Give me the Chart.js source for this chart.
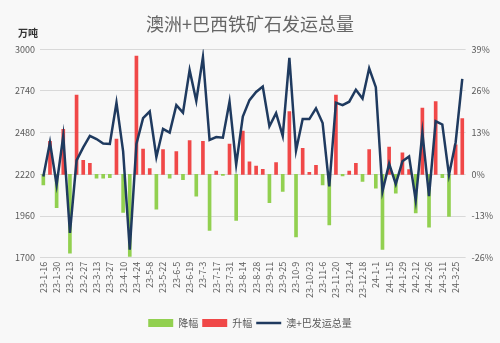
<!DOCTYPE html>
<html>
<head>
<meta charset="utf-8">
<script src="https://cdn.jsdelivr.net/npm/chart.js@4.4.1/dist/chart.umd.min.js"></script>
<style>
  html, body { margin: 0; padding: 0; background: #fff; }
  #wrap { width: 500px; height: 343px; }
</style>
</head>
<body>
<div id="wrap"><canvas id="grafico"></canvas></div>
<script>
// semanas (eixo x)
const weeks = [
  "23-1-16", "23-1-23", "23-1-30", "23-2-6", "23-2-13", "23-2-20", "23-2-27", "23-3-6",
  "23-3-13", "23-3-20", "23-3-27", "23-4-3", "23-4-10", "23-4-17", "23-4-24", "23-5-1",
  "23-5-8", "23-5-15", "23-5-22", "23-5-29", "23-6-5", "23-6-12", "23-6-19", "23-6-26",
  "23-7-3", "23-7-10", "23-7-17", "23-7-24", "23-7-31", "23-8-7", "23-8-14", "23-8-21",
  "23-8-28", "23-9-4", "23-9-11", "23-9-18", "23-9-25", "23-10-2", "23-10-9", "23-10-16",
  "23-10-23", "23-10-30", "23-11-6", "23-11-13", "23-11-20", "23-11-27", "23-12-4", "23-12-11",
  "23-12-18", "23-12-25", "24-1-1", "24-1-8", "24-1-15", "24-1-22", "24-1-29", "24-2-5",
  "24-2-12", "24-2-19", "24-2-26", "24-3-4", "24-3-11", "24-3-18", "24-3-25", "24-4-1"
];

// 澳+巴发运总量, 万吨
const shipments = [
  2206, 2419, 2155, 2460, 1855, 2307, 2388, 2460,
  2440, 2412, 2410, 2667, 2363, 1750, 2410, 2571,
  2612, 2328, 2504, 2480, 2652, 2605, 2870, 2679,
  2951, 2435, 2453, 2449, 2673, 2281, 2581, 2683,
  2734, 2768, 2520, 2602, 2460, 2947, 2368, 2565,
  2565, 2632, 2540, 2145, 2667, 2652, 2673, 2748,
  2693, 2882, 2764, 2114, 2287, 2159, 2301, 2332,
  2058, 2480, 2084, 2551, 2531, 2216, 2419, 2815
];

// 周环比, %
const weeklyChange = [
  -3.3, 10.3, -10.4, 14.0, -24.6, 24.7, 4.4, 3.4,
  -1.2, -1.2, -1.0, 11.0, -11.9, -25.6, 36.9, 7.9,
  1.8, -10.9, 7.7, -1.2, 7.1, -1.7, 10.5, -6.8,
  10.3, -17.5, 1.0, -0.3, 9.4, -14.4, 13.5, 3.9,
  2.6, 1.6, -8.8, 3.7, -5.3, 19.6, -19.5, 8.1,
  0.6, 2.8, -3.3, -15.8, 24.7, -0.5, 1.0, 3.4,
  -2.2, 7.7, -4.3, -23.4, 8.5, -5.9, 6.7, 1.5,
  -12.0, 20.7, -16.5, 22.7, -1.0, -13.1, 9.2, 17.4
];

const leftTicks = [1700, 1960, 2220, 2480, 2740, 3000];
const rightTicks = [-26, -13, 0, 13, 26, 39];

const fall = weeklyChange.map(v => (v < 0 ? v : null));
const rise = weeklyChange.map(v => (v >= 0 ? v : null));

const FONT = '"Noto Sans CJK SC", "Noto Sans", sans-serif';
const GRAY = "#595959";

const extras = {
  id: "extras",
  beforeDraw(chart) {
    const ctx = chart.ctx;
    ctx.save();
    ctx.fillStyle = "#f8f8f8";
    ctx.fillRect(0, 0, chart.width, chart.height);
    ctx.restore();
  },
  afterDraw(chart) {
    const ctx = chart.ctx;
    ctx.save();
    ctx.font = "bold 10px " + FONT;
    ctx.fillStyle = "#333";
    ctx.textBaseline = "middle";
    ctx.fillText("万吨", 18, 33);
    ctx.restore();
  }
};

new Chart(document.getElementById("grafico"), {
  data: {
    labels: weeks,
    datasets: [
      {
        type: "bar",
        label: "降幅",
        data: fall,
        yAxisID: "y1",
        backgroundColor: "#92d050",
        borderWidth: 0,
        barThickness: 3,
        grouped: false,
        pointStyle: "rect",
        order: 1
      },
      {
        type: "bar",
        label: "升幅",
        data: rise,
        yAxisID: "y1",
        backgroundColor: "#f04848",
        borderWidth: 0,
        barThickness: 3,
        grouped: false,
        pointStyle: "rect",
        order: 1
      },
      {
        type: "line",
        label: "澳+巴发运总量",
        data: shipments,
        yAxisID: "y",
        borderColor: "#1f3a5f",
        backgroundColor: "#1f3a5f",
        borderWidth: 2.5,
        pointRadius: 0,
        tension: 0,
        pointStyle: "line",
        order: 0
      }
    ]
  },
  options: {
    responsive: true,
    maintainAspectRatio: false,
    animation: false,
    layout: { padding: { left: 0, right: 0, top: 0, bottom: 5 } },
    plugins: {
      title: {
        display: true,
        text: "澳洲+巴西铁矿石发运总量",
        color: "#666",
        font: { family: FONT, size: 18, weight: "normal" },
        padding: { top: 13, bottom: 14.7 }
      },
      legend: {
        position: "bottom",
        labels: {
          usePointStyle: true,
          pointStyleWidth: 25,
          boxHeight: 8,
          padding: 4,
          color: GRAY,
          font: { family: FONT, size: 10 },
          sort: (a, b) => a.datasetIndex - b.datasetIndex
        }
      },
      tooltip: { enabled: false }
    },
    scales: {
      x: {
        offset: true,
        grid: { display: false, drawTicks: false },
        border: { display: false },
        afterFit: s => { s.height = 56.3; },
        ticks: {
          autoSkip: false,
          minRotation: 90,
          maxRotation: 90,
          padding: 4,
          color: GRAY,
          font: { family: FONT, size: 9 },
          callback: function (value, index) {
            return index % 2 === 0 ? this.getLabelForValue(value) : "";
          }
        }
      },
      y: {
        position: "left",
        min: leftTicks[0],
        max: leftTicks[leftTicks.length - 1],
        afterFit: s => { s.width = 40; },
        afterBuildTicks: s => { s.ticks = leftTicks.map(v => ({ value: v })); },
        grid: { color: "#d9d9d9", drawTicks: false },
        border: { display: false },
        ticks: {
          padding: 5,
          color: GRAY,
          font: { family: FONT, size: 9 },
          callback: v => String(v)
        }
      },
      y1: {
        position: "right",
        min: rightTicks[0],
        max: rightTicks[rightTicks.length - 1],
        afterFit: s => { s.width = 34.4; },
        afterBuildTicks: s => { s.ticks = rightTicks.map(v => ({ value: v })); },
        grid: { display: false, drawTicks: false },
        border: { display: false },
        ticks: {
          padding: 6,
          color: GRAY,
          font: { family: FONT, size: 9 },
          callback: v => v + "%"
        }
      }
    }
  },
  plugins: [extras]
});
</script>
</body>
</html>
